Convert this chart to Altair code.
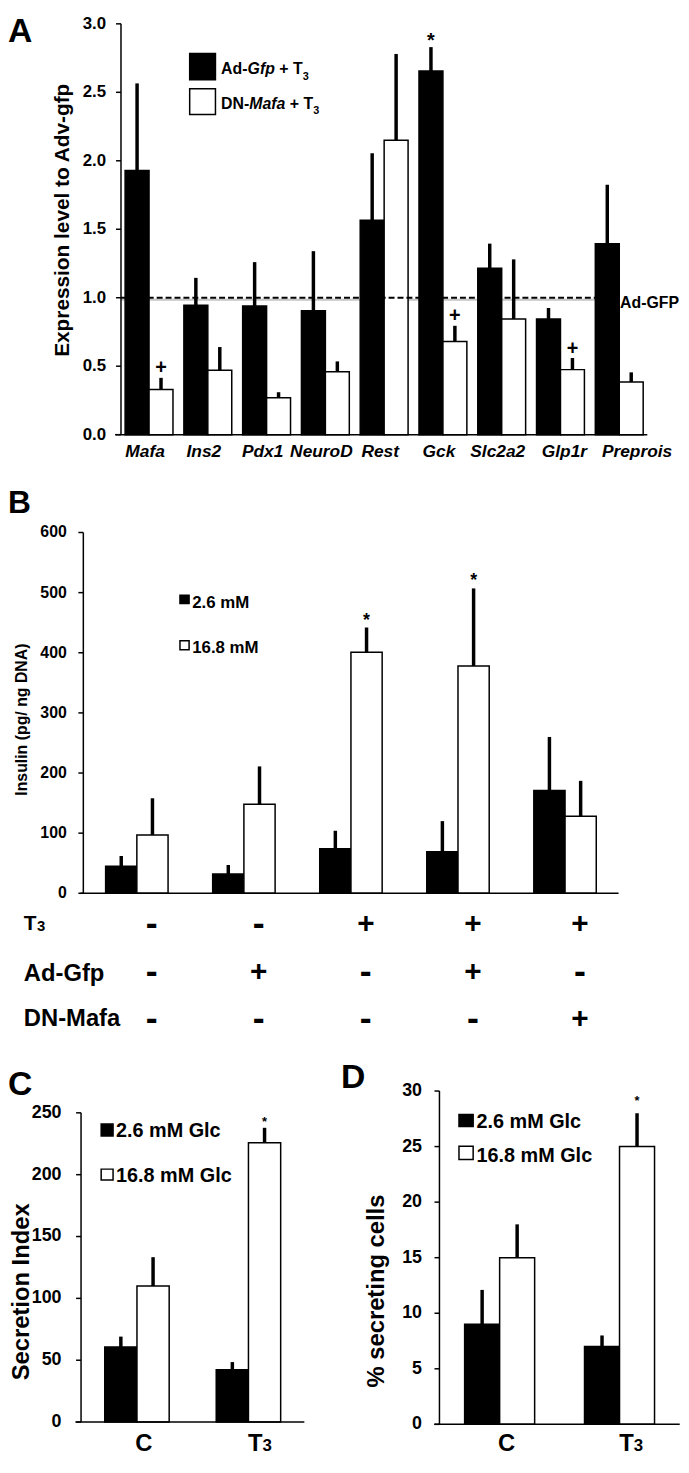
import altair as alt
import pandas as pd

FONT = "Liberation Sans, Arial, Helvetica, sans-serif"

# ---------------- Panel A data ----------------
genes = ["Mafa", "Ins2", "Pdx1", "NeuroD", "Rest", "Gck", "Slc2a2", "Glp1r", "Preprois"]
a_series = ["Ad-Gfp + T3", "DN-Mafa + T3"]
a_gfp_mean = [1.93, 0.945, 0.94, 0.905, 1.565, 2.655, 1.215, 0.845, 1.395]
a_gfp_err = [2.565, 1.145, 1.26, 1.34, 2.055, 2.83, 1.395, 0.925, 1.825]
a_dn_mean = [0.33, 0.47, 0.27, 0.46, 2.15, 0.68, 0.845, 0.475, 0.385]
a_dn_err = [0.415, 0.64, 0.31, 0.535, 2.78, 0.795, 1.28, 0.56, 0.455]
a_gfp_sig = ["", "", "", "", "", "*", "", "", ""]
a_dn_sig = ["+", "", "", "", "", "+", "", "+", ""]
a_ticks = [0.0, 0.5, 1.0, 1.5, 2.0, 2.5, 3.0]
a_reference = [1.0]

# ---------------- Panel B data ----------------
b_groups = ["g1", "g2", "g3", "g4", "g5"]
b_series = ["2.6 mM", "16.8 mM"]
b_low_mean = [45, 32, 74, 69, 171]
b_low_err = [62, 47, 104, 120, 260]
b_high_mean = [97, 148, 401, 378, 128]
b_high_err = [158, 211, 442, 507, 187]
b_low_sig = ["", "", "", "", ""]
b_high_sig = ["", "", "*", "*", ""]
b_t3 = ["-", "-", "+", "+", "+"]
b_gfp = ["-", "+", "-", "+", "-"]
b_dn = ["-", "-", "-", "-", "+"]
b_ticks = [0, 100, 200, 300, 400, 500, 600]

# ---------------- Panels C and D data ----------------
cd_groups = ["C", "T3"]
cd_series = ["2.6 mM Glc", "16.8 mM Glc"]
c_low_mean = [60.6, 42.4]
c_low_err = [69.1, 48.5]
c_high_mean = [110.0, 225.8]
c_high_err = [133.3, 237.9]
c_low_sig = ["", ""]
c_high_sig = ["", "*"]
c_ticks = [0, 50, 100, 150, 200, 250]
d_low_mean = [9.0, 7.0]
d_low_err = [12.1, 8.0]
d_high_mean = [15.0, 25.0]
d_high_err = [18.0, 28.0]
d_low_sig = ["", ""]
d_high_sig = ["", "*"]
d_ticks = [0, 5, 10, 15, 20, 25, 30]

# ---------------- layout ----------------
W = 678
HA, HB, HCD = 462, 575, 400
WC = 340
WD = W - WC


def make_df(cats, series, means_list, errs_list, sigs_list):
    rows = []
    for s, means, errs, sigs in zip(series, means_list, errs_list, sigs_list):
        for c, m, e, g in zip(cats, means, errs, sigs):
            rows.append({"cat": c, "series": s, "mean": m, "err": e, "sig": g})
    return pd.DataFrame(rows)


def text_mark(txt, x, y, size, align="left", style="normal", angle=0):
    return alt.Chart(pd.DataFrame({"t": [txt]})).mark_text(
        align=align, baseline="middle", font=FONT, fontSize=size,
        fontWeight="bold", fontStyle=style, angle=angle, color="black",
    ).encode(x=alt.value(x), y=alt.value(y), text="t:N")


def box(x1, x2, y1, y2, fill):
    return alt.Chart(pd.DataFrame({"t": [0]})).mark_rect(
        fill=fill, stroke="black", strokeWidth=1.5
    ).encode(x=alt.value(x1), x2=alt.value(x2), y=alt.value(y1), y2=alt.value(y2))


def panel(cats, series, means, errs, sigs, xrange, pi, po, ydom, yrange,
          yticks, yfmt, ylab_size, ylab_gap, xline, star_size, star_dy,
          plus_size=20, plus_dy=-9.5):
    df = make_df(cats, series, means, errs, sigs)
    xs = alt.Scale(range=list(xrange), paddingInner=pi, paddingOuter=po)
    ys = alt.Scale(domain=list(ydom), range=list(yrange), nice=False, zero=False)
    xo = alt.XOffset("series:N", sort=series,
                     scale=alt.Scale(domain=series, paddingInner=0, paddingOuter=0))
    xe = alt.X("cat:N", sort=cats, scale=xs, title=None, axis=None)
    base = alt.Chart(df)
    bars = base.mark_bar(stroke="black", strokeWidth=1.5).encode(
        x=xe, xOffset=xo, y=alt.Y("mean:Q", scale=ys, axis=None, title=None),
        fill=alt.Fill("series:N", scale=alt.Scale(domain=series, range=["black", "white"]),
                      legend=None))
    err = base.mark_rule(color="black", strokeWidth=3.5).encode(
        x=xe, xOffset=xo,
        y=alt.Y("mean:Q", scale=ys, axis=None, title=None), y2="err:Q")
    stars = base.transform_filter("datum.sig == '*'").mark_text(
        font=FONT, fontWeight="bold", fontSize=star_size, baseline="middle",
        dy=star_dy, color="black").encode(
        x=xe, xOffset=xo,
        y=alt.Y("err:Q", scale=ys, axis=None, title=None), text="sig:N")
    plus = base.transform_filter("datum.sig == '+'").mark_text(
        font=FONT, fontWeight="bold", fontSize=plus_size, baseline="middle",
        dy=plus_dy, color="black").encode(
        x=xe, xOffset=xo,
        y=alt.Y("err:Q", scale=ys, axis=None, title=None), text="sig:N")

    # hand-drawn axes (y axis line, ticks, tick labels; x axis line)
    x0 = xrange[0]
    span = pd.DataFrame({"lo": [ydom[0]], "hi": [ydom[1]]})
    tick_df = pd.DataFrame({"v": yticks})
    y_line = alt.Chart(span).mark_rule(color="black", strokeWidth=1.5).encode(
        x=alt.value(x0), y=alt.Y("lo:Q", scale=ys, axis=None, title=None), y2="hi:Q")
    x_line = alt.Chart(span).mark_rule(color="black", strokeWidth=1.5).encode(
        x=alt.value(xline[0]), x2=alt.value(xline[1]),
        y=alt.Y("lo:Q", scale=ys, axis=None, title=None))
    y_ticks = alt.Chart(tick_df).mark_rule(color="black", strokeWidth=1.5).encode(
        x=alt.value(x0 - 5), x2=alt.value(x0),
        y=alt.Y("v:Q", scale=ys, axis=None, title=None))
    y_labels = alt.Chart(tick_df).mark_text(
        align="right", baseline="middle", font=FONT, fontWeight="bold",
        fontSize=ylab_size, color="black").encode(
        x=alt.value(x0 - ylab_gap), y=alt.Y("v:Q", scale=ys, axis=None, title=None),
        text=alt.Text("v:Q", format=yfmt))
    layers = [bars, err, stars, plus, y_line, x_line, y_ticks, y_labels]
    return layers, xe, ys


# ================= Panel A =================
a_layers, a_x, a_ys = panel(
    genes, a_series, [a_gfp_mean, a_dn_mean], [a_gfp_err, a_dn_err],
    [a_gfp_sig, a_dn_sig], (114, 645), 0.1855, 0.07, (0, 3), (423, 8.5),
    a_ticks, ".1f", 17, 15, (108, 645), star_size=20, star_dy=-6,
    plus_size=20, plus_dy=-9.5)

gene_df = pd.DataFrame({"cat": genes})


def gene_labels(test, dx):
    return alt.Chart(gene_df).transform_filter(test).mark_text(
        font=FONT, fontWeight="bold", fontStyle="italic", fontSize=17.5,
        baseline="middle", align="center", dx=dx, color="black").encode(
        x=a_x, y=alt.value(440.5), text="cat:N")


ref_df = pd.DataFrame({"v": a_reference})
a_shadow = alt.Chart(ref_df).mark_rule(color="#c4c4c4", strokeWidth=2, yOffset=2).encode(
    y=alt.Y("v:Q", scale=a_ys, axis=None, title=None), x=alt.value(114), x2=alt.value(612))
a_dash = alt.Chart(ref_df).mark_rule(color="black", strokeWidth=2, strokeDash=[6, 3]).encode(
    y=alt.Y("v:Q", scale=a_ys, axis=None, title=None), x=alt.value(114), x2=alt.value(612))
a_reftext = alt.Chart(ref_df).mark_text(
    align="right", baseline="middle", dy=5.6, font=FONT, fontSize=16,
    fontWeight="bold", color="black").encode(
    y=alt.Y("v:Q", scale=a_ys, axis=None, title=None), x=alt.value(677),
    text=alt.value("Ad-GFP"))

panelA = alt.layer(
    a_shadow, *a_layers[:2], a_dash, *a_layers[2:], a_reftext,
    gene_labels("datum.cat != 'Preprois' && datum.cat != 'Glp1r'", -4),
    gene_labels("datum.cat == 'Glp1r'", 4),
    gene_labels("datum.cat == 'Preprois'", 18),
    text_mark("A", 0, 17, 34),
    text_mark("Expression level to Adv-gfp", 55.2, 206.7, 21, align="center", angle=270),
    box(183.3, 209.3, 38.3, 65, "black"),
    box(183.3, 209.3, 74, 100, "white"),
    text_mark("Ad-", 215, 54.5, 16),
    text_mark("Gfp", 241.7, 54.5, 16, style="italic"),
    text_mark("+ T", 273.7, 54.5, 16),
    text_mark("3", 297.3, 61.7, 11),
    text_mark("DN-", 215, 89.5, 16),
    text_mark("Mafa", 243.4, 89.5, 16, style="italic"),
    text_mark("+ T", 284.3, 89.5, 16),
    text_mark("3", 307.9, 96.7, 11),
).properties(width=W, height=HA)

# ================= Panel B =================
b_layers, b_x, b_ys = panel(
    b_groups, b_series, [b_low_mean, b_high_mean], [b_low_err, b_high_err],
    [b_low_sig, b_high_sig], (76, 616), 0.4167, 0.2083, (0, 600), (423.7, 59.7),
    b_ticks, "d", 16, 16.7, (73, 616), star_size=18, star_dy=-7)

sign_layers = []
for signs, yy in [(b_t3, 454.7), (b_gfp, 503.5), (b_dn, 550.5)]:
    sdf = pd.DataFrame({"cat": b_groups, "sign": signs})
    sign_layers.append(
        alt.Chart(sdf).mark_text(font=FONT, fontWeight="bold", baseline="middle",
                                 dx=15, color="black").encode(
            x=b_x, y=alt.value(yy), text="sign:N",
            size=alt.Size("sign:N", scale=alt.Scale(domain=["+", "-"], range=[30, 36]),
                          legend=None)))

panelB = alt.layer(
    *b_layers, *sign_layers,
    text_mark("B", 0, 29.7, 32),
    text_mark("Insulin (pg/ ng DNA)", 14.4, 248.5, 16, align="center", angle=270),
    box(173.5, 182.7, 123, 131.3, "black"),
    box(173.5, 182.7, 169, 178, "white"),
    text_mark("2.6 mM", 185.8, 130.7, 17),
    text_mark("16.8 mM", 185.8, 176, 17),
    text_mark("T", 16, 454.9, 21),
    text_mark("3", 29.3, 456.7, 15),
    text_mark("Ad-Gfp", 16, 505, 24),
    text_mark("DN-Mafa", 16, 551, 24),
).properties(width=W, height=HB)


def xlabels(x_enc):
    lab = alt.Chart(pd.DataFrame({"cat": cd_groups})).transform_calculate(
        main="substring(datum.cat, 0, 1)", sub="substring(datum.cat, 1)")
    main = lab.mark_text(font=FONT, fontWeight="bold", fontSize=24, baseline="middle",
                         align="center", dx=7, color="black").encode(
        x=x_enc, y=alt.value(404), text="main:N")
    sub = lab.mark_text(font=FONT, fontWeight="bold", fontSize=17, baseline="middle",
                        align="left", dx=14.3, color="black").encode(
        x=x_enc, y=alt.value(406.1), text="sub:N")
    return [main, sub]


# ================= Panel C =================
c_layers, c_x, c_ys = panel(
    cd_groups, cd_series, [c_low_mean, c_high_mean], [c_low_err, c_high_err],
    [c_low_sig, c_high_sig], (73.7, 299), 0.422, 0.2125, (0, 250), (382.2, 70.2),
    c_ticks, "d", 18, 19.7, (68, 299), star_size=13, star_dy=-5.8)

panelC = alt.layer(
    *c_layers, *xlabels(c_x),
    text_mark("C", 0, 42, 34),
    text_mark("Secretion Index", 14, 250.8, 24, align="center", angle=270),
    box(94, 106, 81.5, 93.6, "black"),
    box(94, 106, 127, 138, "white"),
    text_mark("2.6 mM Glc", 109, 89, 20),
    text_mark("16.8 mM Glc", 109, 133.6, 20),
).properties(width=WC, height=HCD)

# ================= Panel D =================
d_layers, d_x, d_ys = panel(
    cd_groups, cd_series, [d_low_mean, d_high_mean], [d_low_err, d_high_err],
    [d_low_sig, d_high_sig], (95.3, 337.7), 0.416, 0.21, (0, 30), (384.5, 48.2),
    d_ticks, "d", 18, 17.6, (90, 337.7), star_size=13, star_dy=-12)

panelD = alt.layer(
    *d_layers, *xlabels(d_x),
    text_mark("D", -4, 35, 34),
    text_mark("% secreting cells", 32.7, 250, 24, align="center", angle=270),
    box(115, 129.3, 72, 84, "black"),
    box(115, 129.3, 104, 117.4, "white"),
    text_mark("2.6 mM Glc", 132.7, 79.7, 20),
    text_mark("16.8 mM Glc", 132.7, 114, 20),
).properties(width=WD, height=HCD)

rowCD = alt.hconcat(panelC, panelD, spacing=0, bounds="flush").resolve_scale(
    fill="independent", xOffset="independent")

chart = alt.vconcat(panelA, panelB, rowCD, spacing=0, bounds="flush").resolve_scale(
    fill="independent", xOffset="independent", size="independent"
).properties(padding=0).configure_view(stroke="transparent", strokeWidth=0)

chart.save("out.html", embed_options={"renderer": "svg", "actions": False})
